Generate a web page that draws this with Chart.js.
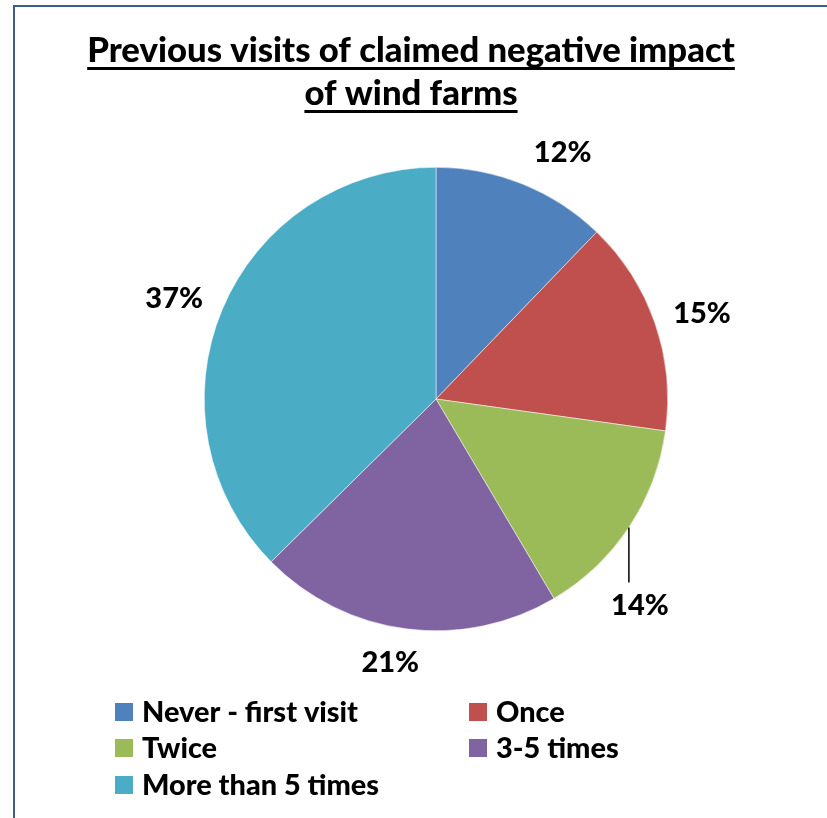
<!DOCTYPE html>
<html>
<head>
<meta charset="utf-8">
<script src="https://cdn.jsdelivr.net/npm/chart.js@4"></script>
<style>
  html, body { margin: 0; padding: 0; background: #fff; overflow: hidden; }
  #wrap { position: relative; width: 827px; height: 818px; }
  #frame { position: absolute; left: 13px; top: 5px; width: 900px; height: 900px; border: 2px solid #3b5e8f; box-sizing: border-box; }
  #pie { position: absolute; left: 0; top: 0; }
</style>
</head>
<body>
<div id="wrap">
  <div id="frame"></div>
  <canvas id="pie" width="827" height="818"></canvas>
</div>
<script>
const titleLines = ['Previous visits of claimed negative impact', 'of wind farms'];
const sliceLabels = ['Never - first visit', 'Once', 'Twice', '3-5 times', 'More than 5 times'];
const sliceValues = [12.2, 15.0, 14.3, 21.1, 37.4];
const sliceColors = ['#4f81bd', '#c0504d', '#9bbb59', '#8064a2', '#4bacc6'];

const FONT = 'Lato, "Open Sans", sans-serif';
// label offsets from the middle of each slice's outer edge
const labelNudge = [[40, -31], [47, -10], [11, 78], [-16, 34], [-48, -11]];

// pick a font size so a string spans about the given width
function fitFont(ctx, text, width, base, max) {
  ctx.font = '900 ' + base + 'px ' + FONT;
  const size = Math.min(max, base * width / ctx.measureText(text).width);
  return '900 ' + size.toFixed(1) + 'px ' + FONT;
}

const titlePlugin = {
  id: 'underlinedTitle',
  afterDraw(chart) {
    const ctx = chart.ctx;
    ctx.save();
    ctx.font = fitFont(ctx, titleLines[0], 647, 30, 36);
    ctx.fillStyle = '#000';
    ctx.textAlign = 'center';
    ctx.textBaseline = 'alphabetic';
    const cx = 411;
    const baselines = [62, 105];
    titleLines.forEach((t, i) => {
      ctx.fillText(t, cx, baselines[i]);
      const w = ctx.measureText(t).width;
      ctx.fillRect(cx - w / 2, baselines[i] + 5, w, 3);
    });
    ctx.restore();
  }
};

const pctPlugin = {
  id: 'pctLabels',
  afterDatasetsDraw(chart) {
    const ctx = chart.ctx;
    const total = sliceValues.reduce((a, b) => a + b, 0);
    ctx.save();
    ctx.font = '900 29px ' + FONT;
    ctx.fillStyle = '#000';
    ctx.textAlign = 'center';
    ctx.textBaseline = 'middle';
    chart.getDatasetMeta(0).data.forEach((arc, i) => {
      const p = arc.getProps(['x', 'y', 'startAngle', 'endAngle', 'outerRadius'], true);
      const mid = (p.startAngle + p.endAngle) / 2;
      const ax = p.x + Math.cos(mid) * p.outerRadius;
      const ay = p.y + Math.sin(mid) * p.outerRadius;
      const tx = ax + labelNudge[i][0];
      const ty = ay + labelNudge[i][1];
      ctx.fillText(Math.round(sliceValues[i] / total * 100) + '%', tx, ty);
      if (i === 2) {
        ctx.beginPath();
        ctx.lineWidth = 1.5;
        ctx.strokeStyle = '#000';
        ctx.moveTo(ax, ay);
        ctx.lineTo(ax, ty - 23);
        ctx.stroke();
      }
    });
    ctx.restore();
  }
};

const legendPlugin = {
  id: 'gridLegend',
  afterDraw(chart) {
    const ctx = chart.ctx;
    const cols = [115, 469];
    const rows = [712, 748, 785];
    ctx.save();
    ctx.font = fitFont(ctx, sliceLabels[0], 216, 26, 30);
    ctx.textAlign = 'left';
    ctx.textBaseline = 'middle';
    sliceLabels.forEach((lab, i) => {
      const x = cols[i % 2];
      const y = rows[Math.floor(i / 2)];
      ctx.fillStyle = sliceColors[i];
      ctx.fillRect(x, y - 9, 18, 18);
      ctx.fillStyle = '#000';
      ctx.fillText(lab, x + 27, y + 1);
    });
    ctx.restore();
  }
};

new Chart(document.getElementById('pie'), {
  type: 'pie',
  data: {
    labels: sliceLabels,
    datasets: [{
      data: sliceValues,
      backgroundColor: sliceColors,
      borderColor: '#ffffff',
      borderWidth: 0.5
    }]
  },
  options: {
    responsive: false,
    animation: false,
    layout: { padding: { left: 204, right: 159, top: 167, bottom: 187 } },
    plugins: {
      legend: { display: false },
      title: { display: false },
      tooltip: { enabled: false }
    }
  },
  plugins: [titlePlugin, pctPlugin, legendPlugin]
});
</script>
</body>
</html>
